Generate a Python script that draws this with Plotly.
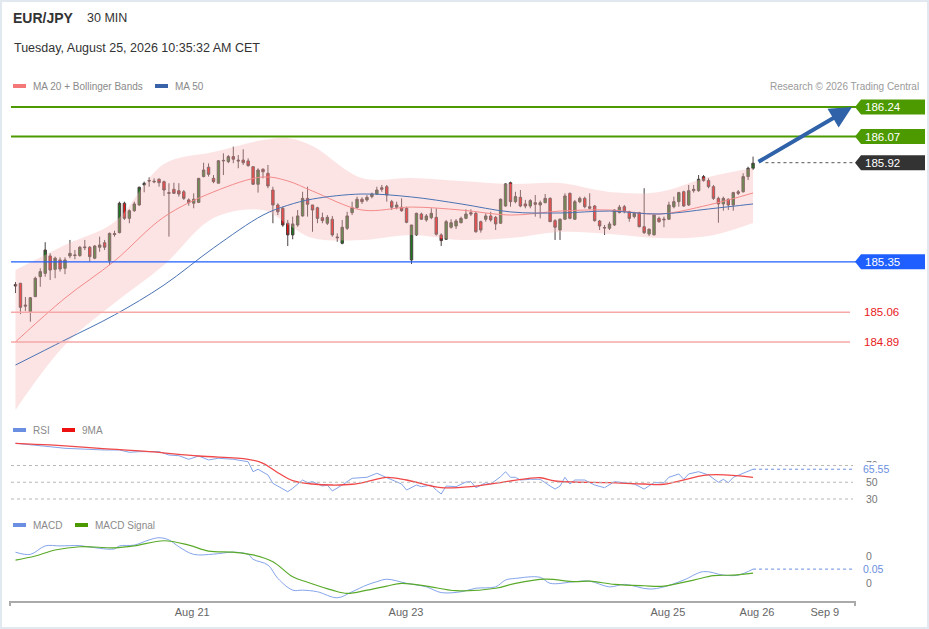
import plotly.graph_objects as go

W, H = 929, 629
def px(x): return x / W
def py(y): return 1 - y / H

# ---------------- data ----------------
open_ = [185.220, 185.227, 185.102, 185.064, 185.150, 185.265, 185.284, 185.384, 185.307, 185.361,
         185.313, 185.384, 185.390, 185.386, 185.436, 185.434, 185.371, 185.434, 185.460, 185.357,
         185.513, 185.518, 185.687, 185.600, 185.644, 185.677, 185.792, 185.818, 185.809, 185.825,
         185.811, 185.748, 185.767, 185.759, 185.753, 185.706, 185.687, 185.692, 185.840, 185.894,
         185.830, 185.802, 185.930, 185.926, 185.955, 185.935, 185.935, 185.930, 185.897, 185.796,
         185.882, 185.859, 185.763, 185.677, 185.658, 185.572, 185.505, 185.562, 185.614, 185.715,
         185.677, 185.661, 185.604, 185.572, 185.595, 185.493, 185.457, 185.543, 185.633, 185.661,
         185.710, 185.706, 185.725, 185.740, 185.776, 185.782, 185.696, 185.664, 185.664, 185.658,
         185.361, 185.505, 185.625, 185.591, 185.604, 185.606, 185.505, 185.480, 185.549, 185.556,
         185.575, 185.600, 185.633, 185.629, 185.581, 185.595, 185.614, 185.606, 185.572, 185.671,
         185.805, 185.696, 185.721, 185.683, 185.671, 185.690, 185.677, 185.690, 185.715, 185.587,
         185.533, 185.595, 185.744, 185.595, 185.696, 185.715, 185.667, 185.671, 185.585, 185.548,
         185.543, 185.562, 185.633, 185.667, 185.638, 185.610, 185.633, 185.552, 185.510, 185.505,
         185.600, 185.596, 185.595, 185.667, 185.696, 185.753, 185.677, 185.759, 185.759, 185.840,
         185.817, 185.782, 185.715, 185.683, 185.710, 185.677, 185.753, 185.753, 185.840, 185.888]
high_ = [185.234, 185.229, 185.148, 185.148, 185.265, 185.313, 185.463, 185.399, 185.380, 185.376,
         185.376, 185.476, 185.418, 185.441, 185.476, 185.441, 185.447, 185.495, 185.476, 185.518,
         185.529, 185.696, 185.696, 185.652, 185.696, 185.782, 185.811, 185.836, 185.830, 185.830,
         185.817, 185.802, 185.805, 185.802, 185.763, 185.715, 185.744, 185.832, 185.920, 185.916,
         185.849, 185.935, 185.974, 185.964, 186.012, 185.964, 185.997, 185.945, 185.901, 185.888,
         185.888, 185.907, 185.782, 185.687, 185.667, 185.591, 185.610, 185.648, 185.753, 185.782,
         185.677, 185.667, 185.633, 185.619, 185.614, 185.514, 185.591, 185.638, 185.696, 185.725,
         185.721, 185.734, 185.748, 185.782, 185.792, 185.792, 185.706, 185.696, 185.715, 185.667,
         185.562, 185.633, 185.633, 185.625, 185.658, 185.658, 185.514, 185.591, 185.595, 185.596,
         185.610, 185.652, 185.652, 185.638, 185.587, 185.629, 185.638, 185.614, 185.715, 185.802,
         185.811, 185.753, 185.763, 185.706, 185.710, 185.734, 185.702, 185.740, 185.721, 185.595,
         185.600, 185.744, 185.748, 185.706, 185.725, 185.725, 185.744, 185.677, 185.591, 185.562,
         185.581, 185.652, 185.677, 185.677, 185.644, 185.638, 185.638, 185.773, 185.543, 185.623,
         185.610, 185.610, 185.696, 185.725, 185.753, 185.759, 185.792, 185.792, 185.849, 185.849,
         185.830, 185.792, 185.725, 185.725, 185.715, 185.753, 185.763, 185.859, 185.897, 185.955]
low_ = [185.171, 185.050, 185.068, 185.006, 185.148, 185.207, 185.265, 185.246, 185.256, 185.294,
        185.279, 185.371, 185.365, 185.380, 185.418, 185.351, 185.365, 185.408, 185.418, 185.332,
        185.495, 185.514, 185.591, 185.572, 185.638, 185.673, 185.750, 185.782, 185.802, 185.782,
        185.729, 185.495, 185.740, 185.725, 185.706, 185.673, 185.658, 185.688, 185.836, 185.840,
        185.802, 185.802, 185.849, 185.917, 185.917, 185.888, 185.907, 185.897, 185.792, 185.748,
        185.830, 185.773, 185.572, 185.619, 185.552, 185.441, 185.480, 185.552, 185.610, 185.610,
        185.523, 185.572, 185.572, 185.562, 185.495, 185.466, 185.451, 185.533, 185.619, 185.658,
        185.683, 185.696, 185.715, 185.734, 185.753, 185.696, 185.648, 185.652, 185.638, 185.572,
        185.338, 185.499, 185.591, 185.581, 185.595, 185.501, 185.441, 185.476, 185.541, 185.539,
        185.572, 185.595, 185.614, 185.518, 185.518, 185.581, 185.581, 185.533, 185.568, 185.667,
        185.667, 185.687, 185.664, 185.658, 185.658, 185.610, 185.600, 185.687, 185.581, 185.476,
        185.476, 185.591, 185.595, 185.591, 185.687, 185.658, 185.652, 185.581, 185.533, 185.505,
        185.533, 185.556, 185.629, 185.629, 185.581, 185.600, 185.549, 185.510, 185.499, 185.503,
        185.575, 185.549, 185.591, 185.658, 185.667, 185.667, 185.671, 185.748, 185.753, 185.811,
        185.773, 185.706, 185.575, 185.644, 185.648, 185.644, 185.734, 185.748, 185.820, 185.878]
close_ = [185.211, 185.089, 185.096, 185.144, 185.256, 185.294, 185.418, 185.303, 185.371, 185.309,
          185.361, 185.399, 185.387, 185.434, 185.432, 185.380, 185.441, 185.447, 185.434, 185.514,
          185.507, 185.687, 185.600, 185.644, 185.683, 185.779, 185.802, 185.815, 185.813, 185.805,
          185.763, 185.744, 185.744, 185.740, 185.715, 185.690, 185.710, 185.830, 185.878, 185.853,
          185.811, 185.931, 185.933, 185.955, 185.940, 185.930, 185.920, 185.903, 185.796, 185.878,
          185.868, 185.786, 185.677, 185.638, 185.562, 185.505, 185.568, 185.614, 185.715, 185.681,
          185.648, 185.600, 185.587, 185.606, 185.505, 185.489, 185.549, 185.614, 185.661, 185.710,
          185.696, 185.721, 185.740, 185.763, 185.767, 185.734, 185.664, 185.677, 185.644, 185.577,
          185.562, 185.629, 185.595, 185.614, 185.629, 185.509, 185.472, 185.581, 185.575, 185.585,
          185.600, 185.625, 185.625, 185.523, 185.533, 185.614, 185.591, 185.568, 185.710, 185.798,
          185.696, 185.725, 185.671, 185.671, 185.702, 185.681, 185.690, 185.715, 185.581, 185.549,
          185.595, 185.729, 185.600, 185.696, 185.715, 185.667, 185.658, 185.587, 185.556, 185.545,
          185.568, 185.648, 185.664, 185.638, 185.600, 185.629, 185.552, 185.518, 185.537, 185.619,
          185.581, 185.592, 185.677, 185.696, 185.748, 185.671, 185.759, 185.767, 185.825, 185.817,
          185.782, 185.715, 185.683, 185.715, 185.677, 185.748, 185.744, 185.840, 185.888, 185.917]
bars = list(range(len(close_)))

ma_bar = [0, 10, 20, 30, 40, 50, 55, 60, 70, 80, 90, 100, 110, 120, 130, 140, 149]
ma20 = [184.890, 185.142, 185.355, 185.608, 185.752, 185.838, 185.815, 185.757, 185.648, 185.665, 185.648,
        185.619, 185.642, 185.648, 185.625, 185.677, 185.746]
ma50 = [184.757, 184.901, 185.045, 185.217, 185.430, 185.619, 185.675, 185.711, 185.740, 185.723, 185.683,
        185.637, 185.631, 185.642, 185.625, 185.654, 185.683]
bb_up = [185.303, 185.447, 185.579, 185.912, 185.981, 186.050, 186.062, 186.016, 185.832, 185.832, 185.815,
         185.798, 185.803, 185.752, 185.752, 185.838, 185.890]
bb_lo = [184.499, 184.873, 185.114, 185.332, 185.602, 185.648, 185.565, 185.487, 185.476, 185.505, 185.476,
         185.487, 185.522, 185.510, 185.487, 185.499, 185.574]

rsi_bar = [0, 4, 7, 10, 14, 18, 21, 23, 25, 29, 31, 33, 35, 37, 39, 41, 44, 47, 48, 49,
           51, 52, 55, 56, 58, 59, 60, 62, 63, 64, 66, 68, 71, 73, 75, 77, 78, 79, 81, 82,
           84, 85, 86, 87, 89, 91, 92, 93, 95, 96, 98, 99, 100, 101, 102, 104, 106, 108, 109, 110,
           111, 112, 113, 115, 117, 119, 121, 123, 125, 127, 129, 131, 132, 134, 135, 136, 138, 140, 142, 143,
           144, 145, 147, 149]
rsi_val = [96.5, 94.5, 92.4, 90.5, 89.3, 88.5, 88.5, 85.8, 86.5, 86.5, 82.5, 81.7, 77.4, 81.3, 76.6, 78.6, 77.4, 74.5, 62.6, 65.5,
           58.7, 48.7, 38.7, 42.8, 52.7, 49.5, 50.7, 45.5, 46.7, 39.6, 46.7, 54.7, 55.9, 60.7, 55.5, 50.7, 47.9, 40.7, 46.7, 44.7,
           46.7, 40.7, 36.0, 45.5, 44.7, 50.3, 50.7, 43.5, 49.5, 47.9, 56.6, 62.6, 55.9, 55.9, 52.7, 53.5, 53.5, 45.5, 41.9, 45.5,
           55.9, 47.9, 52.7, 52.7, 46.7, 43.5, 50.7, 49.5, 47.9, 41.9, 49.5, 49.5, 55.9, 59.9, 53.5, 59.9, 62.6, 58.7, 49.9, 53.5,
           49.5, 55.9, 60.7, 65.55]
rsi_ma_bar = [0, 7, 17, 27, 37, 47, 50, 53, 56, 60, 64, 68, 71, 75, 79, 86, 93, 100, 106, 109, 120, 127, 131, 140, 149]
rsi_ma_val = [96.5, 94.5, 90.5, 86.5, 81.3, 77.4, 72.6, 61.4, 51.9, 47.9, 46.7, 47.6, 50.7, 55.9, 52.7, 43.5, 45.5,
              51.5, 55.4, 51.5, 49.5, 47.9, 47.6, 58.7, 55.9]

macd_bar = [0, 3, 6, 9, 13, 17, 20, 21, 24, 27, 29, 31, 33, 36, 40, 44, 47, 48, 51, 53,
            56, 58, 61, 65, 68, 71, 73, 75, 79, 83, 86, 90, 93, 97, 99, 101, 106, 108, 113, 116,
            120, 123, 128, 131, 135, 139, 143, 146, 149]
macd_val = [0.114, 0.106, 0.137, 0.137, 0.138, 0.128, 0.126, 0.137, 0.140, 0.159, 0.167, 0.159, 0.134, 0.106, 0.107,
            0.114, 0.106, 0.088, 0.067, 0.018, -0.025, -0.025, -0.031, -0.053, -0.031, -0.006, 0.006, 0.015, 0.000,
            -0.013, -0.034, -0.031, -0.018, -0.013, 0.012, 0.018, 0.022, 0.000, 0.006, 0.008, -0.013, -0.004, -0.021,
            -0.013, 0.012, 0.043, 0.030, 0.030, 0.052]
signal_bar = [0, 4, 8, 13, 20, 24, 30, 35, 39, 44, 48, 52, 56, 59, 64, 67, 71, 75, 78, 83,
              89, 97, 101, 107, 113, 116, 121, 127, 131, 137, 141, 145, 149]
signal_val = [0.085, 0.100, 0.122, 0.134, 0.130, 0.137, 0.156, 0.140, 0.118, 0.114, 0.104, 0.079, 0.024, 0.004,
              -0.025, -0.037, -0.025, -0.010, 0.000, -0.010, -0.027, -0.018, 0.000, 0.015, 0.006, 0.008, -0.004,
              -0.009, -0.010, 0.012, 0.028, 0.030, 0.037]

tick_pos = [35.7, 78.9, 131.8, 149.8, 163.5]
tick_text = ["Aug 21", "Aug 23", "Aug 25", "Aug 26", "Sep 9"]

target_levels = [186.24, 186.07]
support_level = 185.35
resist_levels = [185.06, 184.89]
last_price = 185.92
rsi_levels = [70, 50, 30]
rsi_last = 65.55
macd_last = 0.05

GREEN = "#4c9a00"
BLUE_LINE = "#1f5fff"
FONT = "Liberation Sans, Arial, sans-serif"

fig = go.Figure()

# Bollinger band fill
fig.add_trace(go.Scatter(x=ma_bar, y=bb_up, mode="lines", line=dict(width=0, shape="spline"),
                         hoverinfo="skip", showlegend=False, xaxis="x", yaxis="y"))
fig.add_trace(go.Scatter(x=ma_bar, y=bb_lo, mode="lines", line=dict(width=0, shape="spline"),
                         fill="tonexty", fillcolor="rgba(250,180,180,0.36)",
                         hoverinfo="skip", showlegend=False, xaxis="x", yaxis="y"))
fig.add_trace(go.Scatter(x=ma_bar, y=ma20, mode="lines", line=dict(color="#f48a8a", width=1, shape="spline"),
                         hoverinfo="skip", showlegend=False, xaxis="x", yaxis="y"))
fig.add_trace(go.Scatter(x=ma_bar, y=ma50, mode="lines", line=dict(color="#4a73b4", width=1, shape="spline"),
                         hoverinfo="skip", showlegend=False, xaxis="x", yaxis="y"))

fig.add_trace(go.Candlestick(
    x=bars, open=open_, high=high_, low=low_, close=close_,
    increasing=dict(line=dict(color="#4a4040", width=1), fillcolor="#1c781c"),
    decreasing=dict(line=dict(color="#4a4040", width=1), fillcolor="#ee1010"),
    whiskerwidth=0, hoverinfo="skip", showlegend=False, xaxis="x", yaxis="y"))

# RSI
fig.add_trace(go.Scatter(x=rsi_bar, y=rsi_val, mode="lines", line=dict(color="#84a4ea", width=1),
                         hoverinfo="skip", showlegend=False, xaxis="x", yaxis="y2"))
fig.add_trace(go.Scatter(x=rsi_ma_bar, y=rsi_ma_val, mode="lines",
                         line=dict(color="#f04848", width=1.3, shape="spline"),
                         hoverinfo="skip", showlegend=False, xaxis="x", yaxis="y2"))
# MACD
fig.add_trace(go.Scatter(x=macd_bar, y=macd_val, mode="lines",
                         line=dict(color="#84a4ea", width=1, shape="spline"),
                         hoverinfo="skip", showlegend=False, xaxis="x", yaxis="y3"))
fig.add_trace(go.Scatter(x=signal_bar, y=signal_val, mode="lines",
                         line=dict(color="#5aaa2a", width=1.2, shape="spline"),
                         hoverinfo="skip", showlegend=False, xaxis="x", yaxis="y3"))

shapes = []
annotations = []

# border
shapes.append(dict(type="rect", xref="paper", yref="paper", x0=px(1), x1=px(928), y0=py(628), y1=py(1),
                   line=dict(color="#e1e8ef", width=2), layer="below"))

# level lines
for lv in target_levels:
    shapes.append(dict(type="line", xref="paper", yref="y", x0=px(11), x1=px(856), y0=lv, y1=lv,
                       line=dict(color=GREEN, width=2)))
shapes.append(dict(type="line", xref="paper", yref="y", x0=px(11), x1=px(856), y0=support_level, y1=support_level,
                   line=dict(color=BLUE_LINE, width=1.3)))
for lv in resist_levels:
    shapes.append(dict(type="line", xref="paper", yref="y", x0=px(11), x1=px(850), y0=lv, y1=lv,
                       line=dict(color="#f6a8a8", width=1.5)))
# dotted line to last price
shapes.append(dict(type="line", xref="x", yref="y", x0=len(close_) + 1.5, x1=169.5, y0=last_price, y1=last_price,
                   line=dict(color="#555555", width=1, dash="dot")))

def label_box(level, color, yref="y"):
    shapes.append(dict(type="path", xref="paper", yref=yref, xsizemode="pixel", ysizemode="pixel",
                       xanchor=px(855), yanchor=level,
                       path="M0,0 L6,7.5 L70,7.5 L70,-7.5 L6,-7.5 Z",
                       fillcolor=color, line=dict(width=0)))
    annotations.append(dict(xref="paper", yref=yref, x=px(863), y=level, xanchor="left", yanchor="middle",
                            text="%.2f" % level, showarrow=False,
                            font=dict(family=FONT, size=11.5, color="white")))

for lv in target_levels:
    label_box(lv, GREEN)
label_box(last_price, "#333333")
label_box(support_level, "#1f5fff")
for lv in resist_levels:
    annotations.append(dict(xref="paper", yref="y", x=px(862), y=lv, xanchor="left", yanchor="middle",
                            text="%.2f" % lv, showarrow=False,
                            font=dict(family=FONT, size=11.5, color="#e8201a")))

# forecast arrow
annotations.append(dict(xref="x", yref="y", x=169.0, y=target_levels[0], axref="x", ayref="y",
                        ax=len(close_) - 0.2, ay=last_price, text="", showarrow=True,
                        arrowhead=2, arrowsize=1.1, arrowwidth=4, arrowcolor="#2f62a8", standoff=0))

# RSI levels
for lv in rsi_levels:
    shapes.append(dict(type="line", xref="paper", yref="y2", x0=px(11), x1=px(853), y0=lv, y1=lv,
                       line=dict(color="#b8b8b8", width=1, dash="dot")))
    annotations.append(dict(xref="paper", yref="y2", x=px(864), y=lv, xanchor="left", yanchor="middle",
                            text=str(lv), showarrow=False, font=dict(family=FONT, size=10.5, color="#777777")))
shapes.append(dict(type="line", xref="x", yref="y2", x0=rsi_bar[-1], x1=169.0, y0=rsi_last, y1=rsi_last,
                   line=dict(color="#6b8fe0", width=1, dash="dot")))
annotations.append(dict(xref="paper", yref="y2", x=px(862), y=rsi_last, xanchor="left", yanchor="middle",
                        text="%.2f" % rsi_last, showarrow=False, bgcolor="white", borderpad=0,
                        font=dict(family=FONT, size=10.5, color="#6b8fe0")))

# MACD labels
for lv in [0.1, 0.0]:
    annotations.append(dict(xref="paper", yref="y3", x=px(864), y=lv, xanchor="left", yanchor="middle",
                            text="0", showarrow=False, font=dict(family=FONT, size=10.5, color="#777777")))
shapes.append(dict(type="line", xref="x", yref="y3", x0=macd_bar[-1], x1=169.0, y0=macd_val[-1], y1=macd_val[-1],
                   line=dict(color="#6b8fe0", width=1, dash="dot")))
annotations.append(dict(xref="paper", yref="y3", x=px(862), y=macd_val[-1], xanchor="left", yanchor="middle",
                        text="%.2f" % macd_last, showarrow=False, bgcolor="white", borderpad=0,
                        font=dict(family=FONT, size=10.5, color="#6b8fe0")))

# axis end ticks
for xx in [10, 855]:
    shapes.append(dict(type="line", xref="paper", yref="paper", x0=px(xx), x1=px(xx), y0=py(601), y1=py(606),
                       line=dict(color="#aaaaaa", width=2)))

# header texts
def txt(x, y, s, size, color, bold=False, anchor="left"):
    annotations.append(dict(xref="paper", yref="paper", x=px(x), y=py(y), xanchor=anchor, yanchor="middle",
                            text=("<b>%s</b>" % s) if bold else s, showarrow=False,
                            font=dict(family=FONT, size=size, color=color)))

txt(11, 18, "EUR/JPY", 14, "#333333", bold=True)
txt(85, 18, "30 MIN", 12.5, "#333333")
txt(12, 48, "Tuesday, August 25, 2026 10:35:32 AM CET", 12.5, "#333333")
txt(921, 86, "Research © 2026 Trading Central", 10, "#9a9a9a", anchor="right")

def swatch(x0, y, color):
    shapes.append(dict(type="rect", xref="paper", yref="paper", x0=px(x0), x1=px(x0 + 13), y0=py(y + 2), y1=py(y - 2),
                       fillcolor=color, line=dict(width=0)))

swatch(13, 86, "#f47878"); txt(31, 86, "MA 20 + Bollinger Bands", 10, "#8a8a8a")
swatch(155, 86, "#3a62a8"); txt(173, 86, "MA 50", 10, "#8a8a8a")
swatch(13, 430, "#6b8fe0"); txt(31, 430, "RSI", 10, "#8a8a8a")
swatch(62, 430, "#ee1111"); txt(80, 430, "9MA", 10, "#8a8a8a")
swatch(13, 525, "#6b8fe0"); txt(31, 525, "MACD", 10, "#8a8a8a")
swatch(75, 525, "#4c9a00"); txt(93, 525, "MACD Signal", 10, "#8a8a8a")

x_lo = (10 - 15.5) / 4.95
x_hi = (855 - 15.5) / 4.95

fig.update_layout(
    width=W, height=H, margin=dict(l=0, r=0, t=0, b=0),
    paper_bgcolor="white", plot_bgcolor="rgba(0,0,0,0)",
    font=dict(family=FONT),
    showlegend=False,
    xaxis=dict(domain=[px(10), px(855)], range=[x_lo, x_hi], anchor="y3",
               showgrid=False, zeroline=False, showline=True, linecolor="#aaaaaa", linewidth=2,
               tickmode="array", tickvals=tick_pos, ticktext=tick_text, ticks="",
               tickfont=dict(family=FONT, size=11, color="#666666"),
               rangeslider=dict(visible=False), fixedrange=True),
    yaxis=dict(domain=[py(415), py(95)], range=[184.470, 186.309], visible=False, fixedrange=True),
    yaxis2=dict(domain=[py(510), py(438)], range=[16.9, 102.8], visible=False, fixedrange=True),
    yaxis3=dict(domain=[py(601), py(535)], range=[-0.0648, 0.177], visible=False, fixedrange=True),
    shapes=shapes, annotations=annotations,
)

fig.write_html("out.html", config={"displayModeBar": False, "staticPlot": True},
               post_script="document.body.style.margin='0';document.body.style.overflow='hidden';")
